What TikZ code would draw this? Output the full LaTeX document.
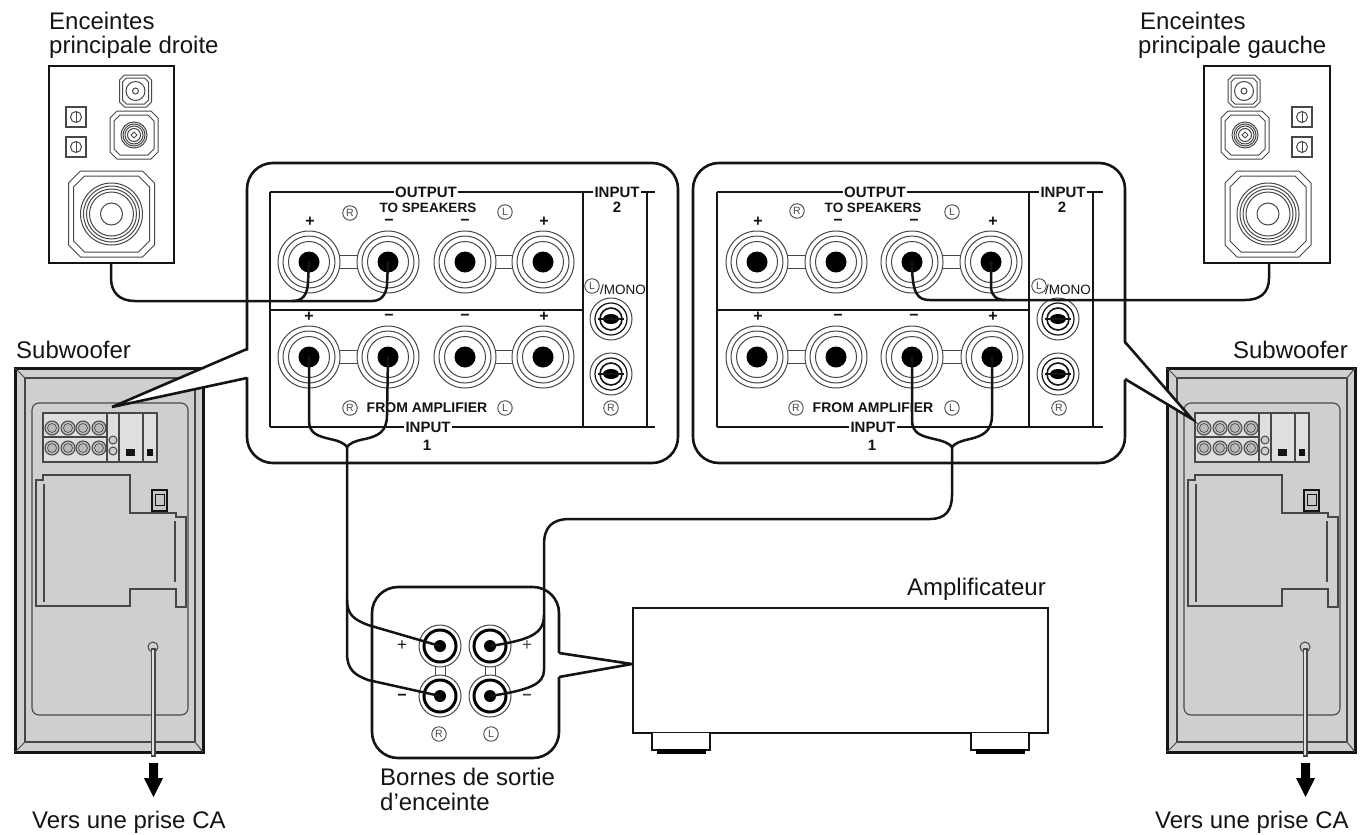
\documentclass[tikz,border=0pt]{standalone}
\usepackage{fontspec}
\usetikzlibrary{calc}
\setmainfont{Liberation Sans}
\definecolor{ink}{gray}{0.08}
\definecolor{mid}{gray}{0.28}
\definecolor{subgray}{gray}{0.81}
\tikzset{
  cable/.style={draw=ink,line width=2.5pt,line cap=round,line join=round},
  panel/.style={draw=ink,fill=white,line width=2.6pt},
  frameline/.style={draw=ink,line width=1.3pt},
  thinring/.style={draw=mid,line width=1pt},
  spk/.style={draw=mid,line width=1pt},
  boxed/.style={draw=ink,line width=2.8pt,fill=white},
  txt/.style={inner sep=0pt,anchor=base west,font=\fontsize{24}{26}\selectfont,text=ink},
  capbig/.style={inner sep=1.5pt,fill=white,font=\fontsize{15}{16}\selectfont\bfseries,text=ink},
  capsmall/.style={inner sep=0pt,font=\fontsize{13.5}{15}\selectfont,text=ink},
  signmark/.style={inner sep=0pt,font=\fontsize{16}{17}\selectfont\bfseries,text=ink},
  circled/.style={circle,draw=mid,line width=.9pt,minimum size=14.5pt,inner sep=0pt,font=\fontsize{10.5}{11}\selectfont,text=mid,fill=white},
  wedgeline/.style={draw=ink,line width=2.6pt,line join=miter}
}
\newcommand{\octa}[4]{% centre x,y half cut
  \draw[spk,shift={(#1,#2)}] (-#3,-#3+#4) -- (-#3+#4,-#3) -- (#3-#4,-#3) -- (#3,-#3+#4) -- (#3,#3-#4) -- (#3-#4,#3) -- (-#3+#4,#3) -- (-#3,#3-#4) -- cycle;}
\newcommand{\rings}[3]{\foreach \r in {#3}{\draw[spk] (#1,#2) circle (\r pt);}}
\newcommand{\term}[3]{% name x y
  \coordinate (#1) at (#2,#3);
  \draw[thinring,fill=white] (#1) circle (31pt);
  \draw[thinring] (#1) circle (26pt);
  \draw[thinring] (#1) circle (20.5pt);
  \fill[black] (#1) circle (10.5pt);}
\newcommand{\jack}[3]{% name x y
  \coordinate (#1) at (#2,#3);
  \draw[thinring,fill=white] (#1) circle (21pt);
  \draw[draw=ink,line width=1.2pt] (#1) circle (16pt);
  \draw[draw=ink,line width=1.6pt] (#1) circle (11pt);
  \fill[black] (#1) ellipse (8pt and 5pt);
  \draw[ink,line width=1.4pt] ($(#1)+(-13,0)$) -- ($(#1)+(13,0)$);}
\newcommand{\speaker}[4]{% tw-x, mid-x, woof-x, sq-x
  \octa{#1}{91}{16}{5}
  \octa{#1}{91}{13}{4}
  \rings{#1}{91}{9.5,3}
  \octa{#2}{135}{24}{7}
  \octa{#2}{135}{20}{6}
  \rings{#2}{135}{13,11,9,6.5}
  \draw[spk] (#2,132) -- (#2+3,135) -- (#2,138) -- (#2-3,135) -- cycle;
  \octa{#3}{214}{43}{12}
  \octa{#3}{214}{38}{11}
  \rings{#3}{214}{31,28,25,22,11}
  \foreach \yy in {117,147}{
    \draw[spk,line width=1.2pt] (#4-10,\yy-10) rectangle (#4+10,\yy+10);
    \draw[spk] (#4,\yy) circle (5.5pt);
    \draw[spk] (#4,\yy-5) -- (#4,\yy+5);}
}
\newcommand{\subw}[1]{%
 \begin{scope}[xshift=#1pt]
  \draw[draw=ink,line width=3pt,fill=subgray] (15,368) rectangle (203,752);
  \draw[draw=mid,line width=1.2pt] (25,378) rectangle (195,742);
  \draw[draw=mid,line width=1pt] (15,368) -- (25,378) (203,368) -- (195,378) (15,752) -- (25,742) (203,752) -- (195,742);
  \draw[draw=mid,line width=1.1pt,rounded corners=7pt] (32,403) rectangle (188,715);
  \fill[gray!25] (43,413) rectangle (157,462);
  \draw[draw=mid,line width=1.1pt] (43,413) rectangle (157,462) (107,413) -- (107,462) (119,413) -- (119,462) (143,413) -- (143,462) (43,437) -- (107,437);
  \foreach \xx in {52,68,83,99}{\foreach \yy in {428,448}{
     \draw[draw=mid,line width=1pt,fill=gray!55] (\xx,\yy) circle (7pt);
     \draw[draw=mid,line width=.6pt] (\xx,\yy) circle (4.5pt);}}
  \foreach \yy in {440,451}{\draw[draw=mid,line width=1pt,fill=gray!40] (113,\yy) circle (4pt);}
  \fill[ink] (126,449) rectangle (135,456);
  \fill[ink] (147,449) rectangle (153,456);
  \draw[draw=mid,line width=1.3pt] (36,480) -- (43,480) -- (43,475) -- (130,475) -- (130,513) -- (176,513) -- (176,517) -- (186,517) -- (186,607) -- (176,607) -- (176,589) -- (130,589) -- (130,606) -- (36,606) -- cycle;
  \draw[draw=mid,line width=1.1pt] (44,484) -- (44,602) (175,521) -- (175,582);
  \draw[draw=ink,line width=1.2pt,fill=gray!45] (152,490) rectangle (167,511);
  \draw[draw=ink,line width=1pt] (155,494) rectangle (164,505);
  \draw[draw=mid,line width=1pt,fill=subgray] (153,647) circle (5pt);
  \fill[mid] (150.5,648) rectangle (155.5,757);
  \fill[subgray!60] (152.2,650) rectangle (153.8,755);
  \fill[black] (149,763) -- (158,763) -- (158,778) -- (163,778) -- (153.5,797) -- (144,778) -- (149,778) -- cycle;
 \end{scope}}
\newcommand{\linktop}[3]{% between x1, x2 at y
  \draw[thinring] (#1,#3-6.5) -- (#2,#3-6.5) (#1,#3+6.5) -- (#2,#3+6.5);}
\begin{document}
\begin{tikzpicture}[x=1pt,y=-1pt]
\useasboundingbox (0,0) rectangle (1365,835);
% labels
\node[txt] (lblEncL) at (49,29) {Enceintes};
\node[txt] (lblPrL) at (49,53) {principale droite};
\node[txt] (lblEncR) at (1140,29) {Enceintes};
\node[txt] (lblPrR) at (1138,53) {principale gauche};
\node[txt] (lblSubL) at (16,358) {Subwoofer};
\node[txt,anchor=base east] (lblSubR) at (1348,358) {Subwoofer};
\node[txt] (lblCaL) at (32,828) {Vers une prise CA};
\node[txt] (lblCaR) at (1155,828) {Vers une prise CA};
\node[txt,anchor=base east] (lblAmp) at (1046,595) {Amplificateur};
\node[txt] (lblB1) at (380,785) {Bornes de sortie};
\node[txt] (lblB2) at (380,810) {d’enceinte};
% speakers
\draw[boxed] (49,66) rectangle (174,263);
\draw[boxed] (1204,66) rectangle (1330,263);
\speaker{135.5}{134}{111.5}{76}
\speaker{1244}{1245}{1268}{1302}
\coordinate (spkLout) at (111,263);
\coordinate (spkRout) at (1269,263);
% subwoofers
\subw{0}
\subw{1152}
% big panels
\draw[panel,rounded corners=26pt] (247,163) rectangle (678,463);
\draw[panel,rounded corners=26pt] (693,163) rectangle (1125,463);
\coordinate (tipL) at (112,407);
\coordinate (tipR) at (1192,419);
\fill[white] (249,350) -- (tipL) -- (249,377) -- cycle;
\fill[white] (1123,342) -- (tipR) -- (1123,379) -- cycle;
\draw[wedgeline] (247,349) -- (tipL) -- (247,378);
\draw[wedgeline] (1125,342) -- (tipR) -- (1125,379);
% left panel frame
\draw[frameline] (270,192) -- (655,192) (270,427) -- (655,427) (270,192) -- (270,427) (583,192) -- (583,427) (647,192) -- (647,427) (270,310) -- (583,310);
\node[capbig] (oL) at (426,192) {OUTPUT};
\node[capsmall] (tsL) at (428,208) {\bfseries TO SPEAKERS};
\node[circled] (rL1) at (350,213) {R};
\node[circled] (lL1) at (505,212) {L};
\node[capbig] (i2L) at (617,192) {INPUT};
\node[capbig,inner sep=0pt] (n2L) at (617,207) {2};
\node[circled] (lL3) at (592,286) {L};
\node[capsmall] (mL) at (623,290) {/MONO};
\node[capsmall,font=\fontsize{14}{15}\selectfont\bfseries] (faL) at (427,408) {FROM AMPLIFIER};
\node[circled] (rL2) at (350,408) {R};
\node[circled] (lL2) at (505,408) {L};
\node[circled] (rL3) at (611,408) {R};
\node[capbig] (iL) at (428,427) {INPUT};
\node[capbig,inner sep=0pt] (n1L) at (427,445) {1};
\foreach \xx/\s/\yy in {310/+/222,389/−/222,465/−/222,544/+/222,309/+/317,389/−/317,465/−/317,544/+/317}{\node[signmark] at (\xx,\yy) {\s};}
\linktop{330}{370}{262}\linktop{485}{525}{262}\linktop{330}{370}{357}\linktop{485}{525}{357}
\term{aL}{309}{262}\term{bL}{388}{262}\term{cL}{465}{262}\term{dL}{543}{262}
\term{eL}{309}{357}\term{fL}{388}{357}\term{gL}{465}{357}\term{hL}{543}{357}
\jack{jaL}{611}{319}\jack{jbL}{611}{374}
% right panel frame
\draw[frameline] (717,192) -- (1103,192) (717,427) -- (1103,427) (717,192) -- (717,427) (1029,192) -- (1029,427) (1093,192) -- (1093,427) (717,310) -- (1029,310);
\node[capbig] (oR) at (875,192) {OUTPUT};
\node[capsmall] (tsR) at (873,208) {\bfseries TO SPEAKERS};
\node[circled] (rR1) at (797,211) {R};
\node[circled] (lR1) at (952,212) {L};
\node[capbig] (i2R) at (1063,192) {INPUT};
\node[capbig,inner sep=0pt] (n2R) at (1062,207) {2};
\node[circled] (lR3) at (1039,286) {L};
\node[capsmall] (mR) at (1068,290) {/MONO};
\node[capsmall,font=\fontsize{14}{15}\selectfont\bfseries] (faR) at (873,408) {FROM AMPLIFIER};
\node[circled] (rR2) at (796,408) {R};
\node[circled] (lR2) at (952,408) {L};
\node[circled] (rR3) at (1059,408) {R};
\node[capbig] (iR) at (873,427) {INPUT};
\node[capbig,inner sep=0pt] (n1R) at (872,445) {1};
\foreach \xx/\s/\yy in {758/+/222,838/−/222,914/−/222,993/+/222,758/+/317,838/−/317,914/−/317,993/+/317}{\node[signmark] at (\xx,\yy) {\s};}
\linktop{777}{817}{262}\linktop{932}{972}{262}\linktop{777}{817}{357}\linktop{932}{972}{357}
\term{aR}{757}{262}\term{bR}{836}{262}\term{cR}{912}{262}\term{dR}{991}{262}
\term{eR}{757}{357}\term{fR}{836}{357}\term{gR}{912}{357}\term{hR}{992}{357}
\jack{jaR}{1058}{319}\jack{jbR}{1058}{374}
% small panel + amp
\draw[panel,rounded corners=26pt] (372,587) rectangle (559,758);
\coordinate (tipA) at (632,664);
\fill[white] (557,653) -- (tipA) -- (557,677) -- cycle;
\draw[wedgeline] (559,653) -- (tipA) -- (559,677);
\draw[boxed,line width=2.4pt] (633,608) rectangle (1048,733);
\draw[ink,line width=2.2pt,fill=white] (652,733) -- (652,750) -- (710,750) -- (710,733);
\draw[ink,line width=2.2pt,fill=white] (971,733) -- (971,750) -- (1029,750) -- (1029,733);
\fill[black] (657,749) rectangle (706,754);
\fill[black] (976,749) rectangle (1025,754);
% amp terminals
\foreach \xx in {440,490}{
  \draw[thinring] (\xx-5,660) -- (\xx-5,682) (\xx+5,660) -- (\xx+5,682);}
\foreach \nm/\xx/\yy in {ap/440/646,am/440/696,bp/490/646,bm/490/696}{
  \coordinate (\nm) at (\xx,\yy);
  \draw[thinring,fill=white] (\nm) circle (21pt);
  \draw[black,line width=3pt] (\nm) circle (16pt);
  \fill[black] (\nm) circle (6pt);}
\node[signmark,font=\fontsize{17}{18}\selectfont] (pa) at (402,646) {+};
\node[signmark] (ma) at (402,697) {−};
\node[signmark,text=mid,font=\fontsize{17}{18}\selectfont] (pb) at (527,646) {+};
\node[signmark,text=mid] (mb) at (527,697) {−};
\node[circled] (rA) at (439,734) {R};
\node[circled] (lA) at (491,734) {L};
% cables
\draw[cable] (spkLout) -- (111,278) .. controls (111,293) and (120,301) .. (135,301) -- (372,301) .. controls (381,301) and (386,295) .. (387,285) -- (bL);
\draw[cable] (aL) -- (308,283) .. controls (307,295) and (303,301) .. (292,301);
\draw[cable] (spkRout) -- (1269,278) .. controls (1269,293) and (1260,300) .. (1245,300) -- (930,300) .. controls (918,300) and (912,295) .. (cR);
\draw[cable] (dR) -- (991,288) .. controls (992,296) and (996,300) .. (1006,300);
% left pair
\coordinate (jL) at (347,447);
\draw[cable] (eL) -- (309,420) .. controls (309,434) and (318,436) .. (330,439) .. controls (340,441) and (345,444) .. (jL);
\draw[cable] (fL) -- (387,415) .. controls (387,432) and (378,436) .. (365,439) .. controls (354,441) and (349,444) .. (jL);
\draw[cable] (jL) -- (347,653) .. controls (347,670) and (355,675) .. (368,680) -- (am);
\draw[cable] (347,600) .. controls (347,615) and (355,620) .. (368,625) -- (ap);
% right pair
\coordinate (jR) at (952,447);
\draw[cable] (gR) -- (912,420) .. controls (912,434) and (922,436) .. (934,439) .. controls (944,441) and (950,444) .. (jR);
\draw[cable] (hR) -- (992,415) .. controls (992,432) and (982,436) .. (970,439) .. controls (960,441) and (954,444) .. (jR);
\draw[cable] (jR) -- (952,495) .. controls (952,511) and (945,519) .. (930,519) -- (570,519) .. controls (552,519) and (544,527) .. (544,545) -- (544,670) .. controls (544,684) and (530,690) .. (bm);
\draw[cable] (544,615) .. controls (544,634) and (530,640) .. (bp);
\end{tikzpicture}
\end{document}
